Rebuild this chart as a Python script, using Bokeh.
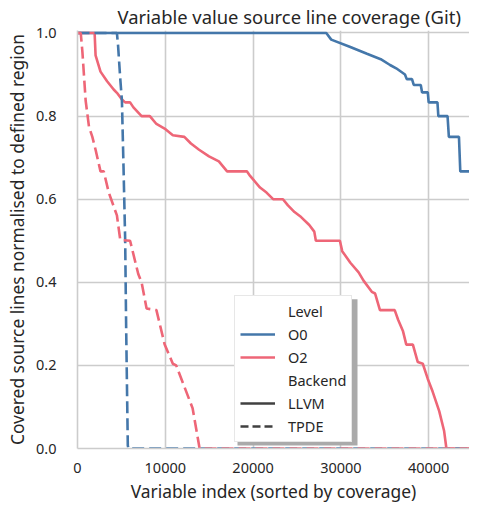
import numpy as np
from bokeh.plotting import figure
from bokeh.models import Legend, LegendItem, Range1d, FixedTicker, BoxAnnotation
from bokeh.embed import file_html
from bokeh.resources import INLINE

# ---------------- data ----------------
N_VARS = 44650

o0_llvm_x = [0, 28340, 28900, 31000, 32970, 34540, 35600, 36300, 36700, 37300, 37500,
             38100, 38300, 39100, 39250, 39900, 40000, 41000, 41100, 42150, 42300,
             43450, 43600, 44650]
o0_llvm_y = [1.0, 1.0, 0.984, 0.967, 0.950, 0.937, 0.923, 0.915, 0.909, 0.900, 0.889,
             0.889, 0.875, 0.875, 0.857, 0.857, 0.833, 0.833, 0.800, 0.800, 0.750,
             0.750, 0.667, 0.667]

o0_tpde_x = [0, 4490, 4620, 4870, 5060, 5240, 5430, 5540, 5730, 5800, 44650]
o0_tpde_y = [1.0, 1.0, 0.970, 0.890, 0.837, 0.679, 0.502, 0.294, 0.007, 0.0, 0.0]

o2_llvm_x = [0, 1950, 2060, 2620, 3370, 4120, 4490, 5060, 5430, 5990, 6370, 7300, 8240,
             8990, 9920, 10860, 12170, 12920, 13850, 14980, 16100, 17040, 19290, 19660,
             20790, 21530, 22280, 23400, 23970, 24720, 25470, 26400, 26970, 27150, 29890,
             30150, 31080, 32020, 32580, 33520, 33900, 34450, 36130, 36520, 37080, 37450,
             38200, 38760, 39330, 39890, 40450, 41200, 41760, 42020, 44650]
o2_llvm_y = [1.0, 1.0, 0.946, 0.907, 0.884, 0.864, 0.856, 0.840, 0.833, 0.833, 0.821, 0.800,
             0.800, 0.781, 0.770, 0.754, 0.750, 0.734, 0.719, 0.703, 0.691, 0.667, 0.667,
             0.656, 0.628, 0.616, 0.600, 0.600, 0.585, 0.569, 0.557, 0.538, 0.522, 0.500,
             0.500, 0.475, 0.447, 0.424, 0.404, 0.377, 0.373, 0.333, 0.333, 0.310, 0.282,
             0.250, 0.250, 0.208, 0.204, 0.168, 0.137, 0.090, 0.042, 0.0, 0.0]

o2_tpde_x = [0, 370, 560, 930, 1310, 1690, 2060, 2620, 2990, 3560, 4490, 4870, 5990, 6920,
             7300, 7870, 8990, 9920, 10860, 11240, 13110, 13850, 13900, 44650]
o2_tpde_y = [1.0, 1.0, 0.954, 0.837, 0.774, 0.750, 0.719, 0.667, 0.667, 0.616, 0.561, 0.502,
             0.500, 0.420, 0.400, 0.337, 0.333, 0.251, 0.204, 0.200, 0.097, 0.007, 0.0, 0.0]

x_ticks = [0, 10000, 20000, 30000, 40000]
x_tick_labels = ["0", "10000", "20000", "30000", "40000"]
y_ticks = [0.0, 0.2, 0.4, 0.6, 0.8, 1.0]
y_tick_labels = ["0.0", "0.2", "0.4", "0.6", "0.8", "1.0"]

title_text = "Variable value source line coverage (Git)"
x_label = "Variable index (sorted by coverage)"
y_label = "Covered source lines normalised to defined region"
level_names = ["O0", "O2"]
backend_names = ["LLVM", "TPDE"]

# ---------------- style ----------------
FONT = "Noto Sans"
TEXT = "#262626"
GRID = "#cccccc"
BLUE = "#4477AA"
RED = "#EE6677"
DARK = "#404040"
LW = 2.6
DASH = "12 5"
Y_END = 1.006

W, H = 469, 505
B_LEFT, B_TOP, B_BOTTOM = 77, 28, 54
FRAME_W, FRAME_H = W - B_LEFT, H - B_TOP - B_BOTTOM

p = figure(width=W, height=H, output_backend="svg", toolbar_location=None,
           x_range=Range1d(0, N_VARS), y_range=Range1d(0, Y_END),
           min_border_left=B_LEFT, min_border_right=0, min_border_top=B_TOP,
           min_border_bottom=B_BOTTOM)
p.outline_line_color = None
p.background_fill_color = "white"

p.title.text = title_text
p.title.align = "left"
p.title.offset = 40
p.title.text_font = FONT
p.title.text_font_size = "18.4px"
p.title.text_font_style = "normal"
p.title.text_color = TEXT
p.title.standoff = 3

for ax in (p.xaxis[0], p.yaxis[0]):
    ax.axis_line_color = GRID
    ax.axis_line_width = 1.6
    ax.major_tick_line_color = None
    ax.minor_tick_line_color = None
    ax.major_tick_in = 0
    ax.major_tick_out = 0
    ax.major_label_text_font = FONT
    ax.major_label_text_font_size = "14.5px"
    ax.major_label_text_color = TEXT
    ax.major_label_text_line_height = 1.0
    ax.axis_label_text_font = FONT
    ax.axis_label_text_font_size = "17.4px"
    ax.axis_label_text_font_style = "normal"
    ax.axis_label_text_color = TEXT
    ax.axis_label_text_line_height = 1.0

p.xaxis.ticker = FixedTicker(ticks=x_ticks)
p.xaxis.major_label_overrides = dict(zip(x_ticks, x_tick_labels))
p.yaxis.ticker = FixedTicker(ticks=y_ticks)
p.yaxis.major_label_overrides = dict(zip(y_ticks, y_tick_labels))
p.xaxis.axis_label = x_label
p.yaxis.axis_label = y_label
p.xaxis.major_label_standoff = 14
p.xaxis.axis_label_standoff = 3
p.yaxis.major_label_standoff = 21
p.yaxis.axis_label_standoff = 4

p.xgrid.ticker = FixedTicker(ticks=x_ticks)
p.ygrid.ticker = FixedTicker(ticks=y_ticks)
p.grid.grid_line_color = GRID
p.grid.grid_line_width = 1.6

# ---------------- curves ----------------
p.line(o0_llvm_x, o0_llvm_y, line_color=BLUE, line_width=LW)
p.line(o2_llvm_x, o2_llvm_y, line_color=RED, line_width=LW)
p.line(o0_tpde_x, o0_tpde_y, line_color=BLUE, line_width=LW, line_dash=DASH)
p.line(o2_tpde_x, o2_tpde_y, line_color=RED, line_width=LW, line_dash=DASH)

# ---------------- legend (proxy renderers, nothing drawn in the plot) ----------------
nan = np.array([np.nan])
hdr1 = p.line(nan, nan, line_alpha=0)
r_o0 = p.line(nan, nan, line_color=BLUE, line_width=LW)
r_o2 = p.line(nan, nan, line_color=RED, line_width=LW)
hdr2 = p.line(nan, nan, line_alpha=0)
r_llvm = p.line(nan, nan, line_color=DARK, line_width=LW)
r_tpde = p.line(nan, nan, line_color=DARK, line_width=LW, line_dash="8 4")

# legend geometry in pixels relative to the frame (bottom-left corner)
LEG_X, LEG_Y = 157, 6
LEG_W, LEG_H = 120, 148
SH = 3

# drop shadow behind the legend box
sx = N_VARS / FRAME_W
sy = Y_END / FRAME_H
shadow = BoxAnnotation(left=(LEG_X + SH) * sx, right=(LEG_X + LEG_W + SH) * sx,
                       bottom=(LEG_Y - SH) * sy, top=(LEG_Y + LEG_H - SH) * sy,
                       fill_color="#aaaaaa", fill_alpha=1.0, line_color=None)
p.add_layout(shadow)

legend = Legend(items=[
    LegendItem(label="Level", renderers=[hdr1]),
    LegendItem(label=level_names[0], renderers=[r_o0]),
    LegendItem(label=level_names[1], renderers=[r_o2]),
    LegendItem(label="Backend", renderers=[hdr2]),
    LegendItem(label=backend_names[0], renderers=[r_llvm]),
    LegendItem(label=backend_names[1], renderers=[r_tpde]),
], location=(LEG_X, LEG_Y))
legend.label_text_font = FONT
legend.label_text_font_size = "14.5px"
legend.label_text_color = TEXT
legend.glyph_width = 35
legend.glyph_height = 18
legend.label_height = 18
legend.label_standoff = 13
legend.spacing = 3
legend.padding = 5
legend.margin = 0
legend.border_line_color = "#d0d0d0"
legend.border_line_width = 1
legend.background_fill_color = "white"
legend.background_fill_alpha = 1.0
p.add_layout(legend)

open("out.html", "w").write(file_html(p, INLINE))
